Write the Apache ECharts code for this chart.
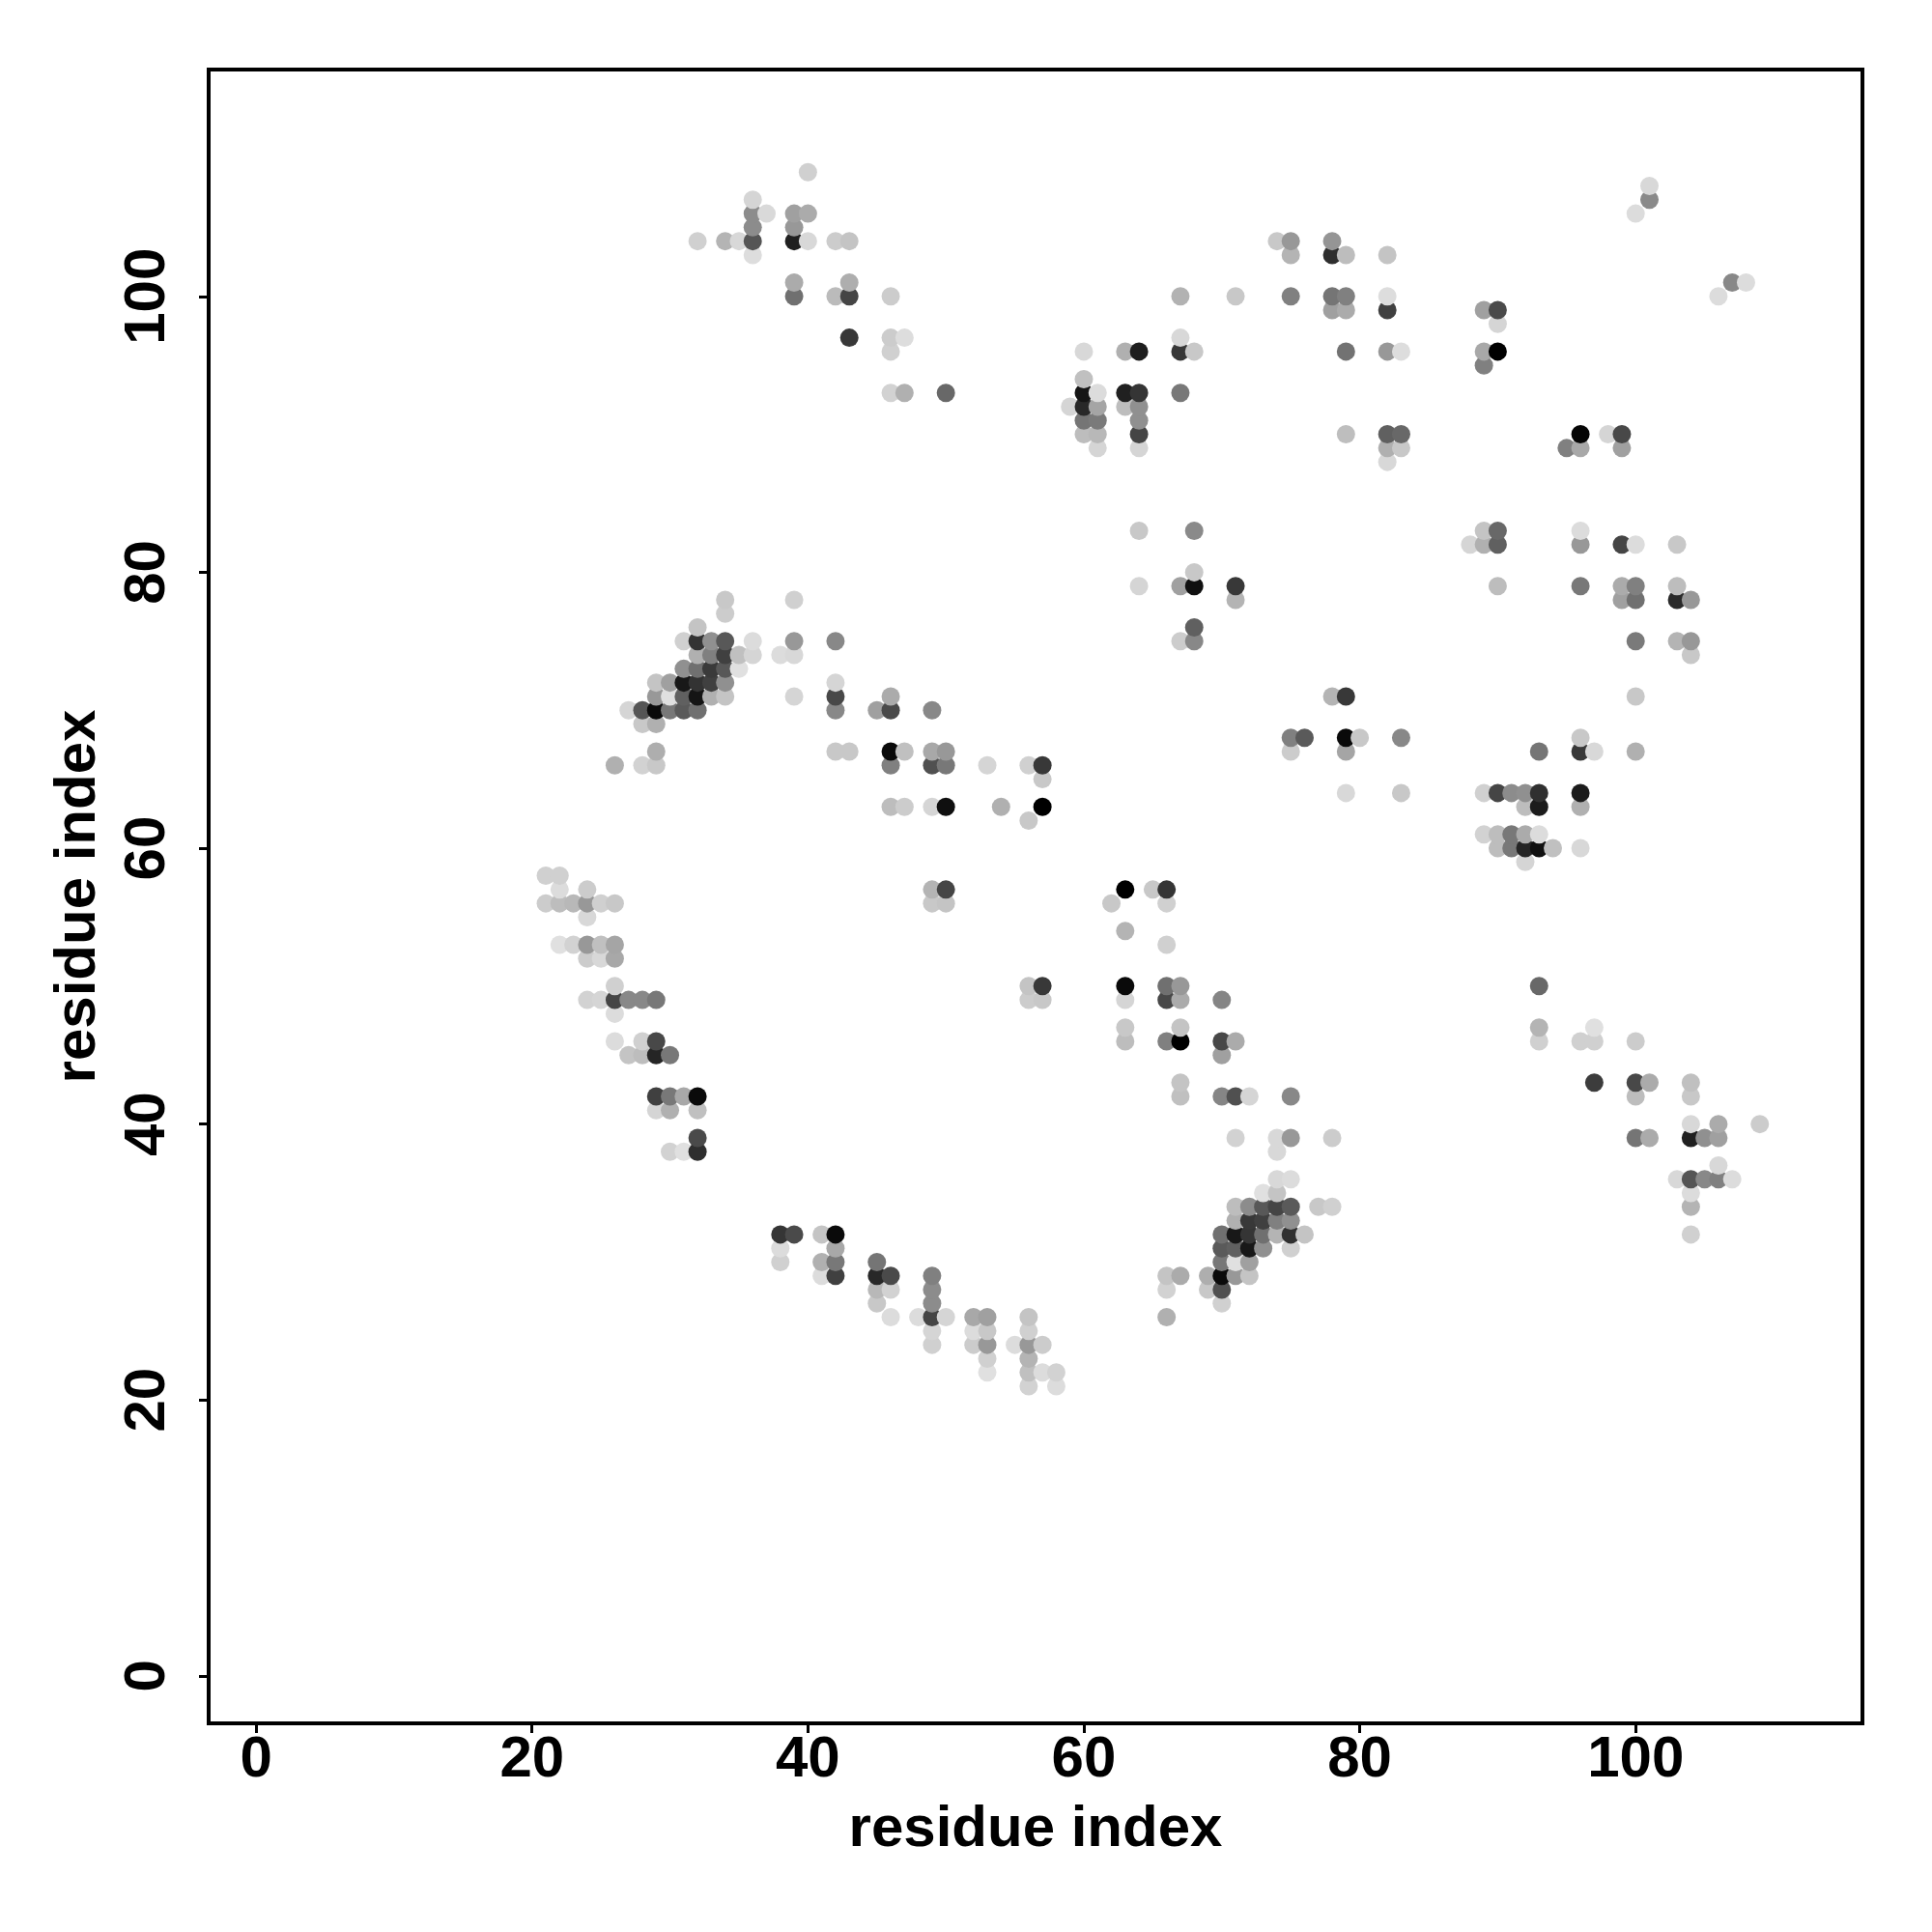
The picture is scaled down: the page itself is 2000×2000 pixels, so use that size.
<!DOCTYPE html>
<html>
<head>
<meta charset="utf-8">
<style>html,body{margin:0;padding:0;background:#fff}#c{width:2000px;height:2000px}</style>
<script src="https://cdn.jsdelivr.net/npm/echarts@6/dist/echarts.min.js"></script>
</head>
<body>
<div id="c"></div>
<script>
const tickValues = [0, 20, 40, 60, 80, 100];
const axisTitle = 'residue index';
// each contact: [residue x, residue y, grey level 0-255]
const topLeft = [[40,109,0xd0],[36,107,0xd5],[36,106,0x8c],[37,106,0xd9],[39,106,0xa0],[40,106,0xab],[36,105,0x8c],[39,105,0x98],[32,104,0xd0],[34,104,0xb4],[35,104,0xd8],[36,104,0x55],[39,104,0x20],[40,104,0xd8],[42,104,0xcc],[43,104,0xc4],[36,103,0xdd],[39,101,0xab],[43,101,0xae],[39,100,0x70],[42,100,0xbb],[43,100,0x45],[46,100,0xcc],[43,97,0x38],[46,97,0xcc],[47,97,0xdd],[46,96,0xd0],[46,93,0xd2],[47,93,0xb0],[50,93,0x68]];
const topMiddle = [[74,104,0xc8],[75,104,0x98],[78,104,0x95],[78,103,0x2e],[79,103,0xbd],[82,103,0xc4],[75,103,0xb4],[67,100,0xb2],[71,100,0xc8],[75,100,0x80],[78,100,0x75],[79,100,0x80],[82,100,0xdd],[78,99,0xa0],[79,99,0xab],[82,99,0x40],[67,97,0xd8],[60,96,0xd8],[63,96,0xb0],[64,96,0x1e],[67,96,0x38],[68,96,0xc8],[79,96,0x72],[82,96,0x98],[83,96,0xdd],[60,94,0xc0],[60,93,0x15],[61,93,0xdc],[63,93,0x20],[64,93,0x35],[67,93,0x78],[59,92,0xd5],[60,92,0x28],[61,92,0xa5],[63,92,0xbd],[64,92,0x90],[60,91,0x75],[61,91,0x7a],[64,91,0x90],[60,90,0xbd],[61,90,0xb8],[64,90,0x45],[61,89,0xd5],[64,89,0xd5],[79,90,0xbe],[82,90,0x60],[83,90,0x68],[82,89,0xb0],[83,89,0xc8],[82,88,0xd8],[64,83,0xc8],[68,83,0x8a],[68,80,0xc8],[64,79,0xd5],[67,79,0xa0],[68,79,0x10],[71,79,0x38],[71,78,0xb4]];
const topRight = [[101,108,0xd8],[101,107,0x8a],[100,106,0xdc],[107,101,0x88],[108,101,0xdc],[106,100,0xdc],[89,99,0xa0],[90,99,0x4a],[90,98,0xd5],[89,96,0xa8],[90,96,0x00],[89,95,0x80],[96,90,0x05],[98,90,0xd5],[99,90,0x48],[95,89,0x80],[96,89,0xa8],[99,89,0xa0],[89,83,0xc4],[90,83,0x68],[88,82,0xd5],[89,82,0xb0],[90,82,0x60],[96,83,0xdc],[96,82,0x98],[99,82,0x45],[100,82,0xdc],[103,82,0xc8],[90,79,0xbd],[96,79,0x78],[99,79,0xab],[100,79,0x80],[103,79,0xbd],[99,78,0xa0],[100,78,0x70],[103,78,0x2a],[104,78,0x98]];
const midLeft = [[34,78,0xc8],[34,77,0xcc],[39,78,0xd0],[32,76,0xc4],[31,75,0xd0],[32,75,0x33],[33,75,0x90],[34,75,0x58],[36,75,0xdc],[39,75,0x98],[42,75,0x88],[32,74,0xb0],[33,74,0x80],[34,74,0x40],[35,74,0xc0],[36,74,0xd5],[38,74,0xdc],[39,74,0xd8],[31,73,0x90],[32,73,0x70],[33,73,0x3a],[34,73,0x58],[35,73,0xe0],[29,72,0xc4],[30,72,0xa0],[31,72,0x18],[32,72,0x33],[33,72,0x40],[34,72,0x90],[42,72,0xd5],[29,71,0x98],[30,71,0xe0],[31,71,0x60],[32,71,0x15],[33,71,0xb0],[34,71,0xc4],[39,71,0xd5],[42,71,0x48],[46,71,0xab],[27,70,0xd5],[28,70,0x55],[29,70,0x0a],[30,70,0x78],[31,70,0x5a],[32,70,0x70],[42,70,0x88],[45,70,0xa0],[46,70,0x4a],[49,70,0x88],[28,69,0xc8],[29,69,0xb0],[29,67,0xae],[26,66,0xb0],[28,66,0xd2],[29,66,0xc8],[42,67,0xc8],[43,67,0xc8],[46,67,0x0a],[47,67,0xc0],[49,67,0xa8],[50,67,0x98],[46,66,0x80],[49,66,0x50],[50,66,0x78],[46,63,0xbd],[47,63,0xcc],[49,63,0xd5],[50,63,0x0f]];
const midCentre = [[68,76,0x60],[67,75,0xcc],[68,75,0x88],[78,71,0xb4],[79,71,0x38],[75,68,0x80],[76,68,0x5a],[79,68,0x0a],[75,67,0xcc],[79,67,0xa5],[79,64,0xd8],[53,66,0xd5],[56,66,0xd0],[57,66,0x38],[57,65,0xc8],[54,63,0xb0],[57,63,0x00],[56,62,0xc8],[63,57,0x00],[65,57,0xc8],[66,57,0x35],[62,56,0xc8],[66,56,0xd0],[63,54,0xb4],[66,53,0xd0],[49,57,0xb4],[50,57,0x45],[49,56,0xc8],[50,56,0xc4],[56,50,0xc4],[57,50,0x38],[56,49,0xcc],[57,49,0xc8]];
const midRight = [[100,75,0x7a],[103,75,0xb4],[104,75,0x98],[104,74,0xc8],[100,71,0xc8],[80,68,0xc8],[83,68,0x88],[83,64,0xc8],[93,67,0x75],[96,68,0xc8],[96,67,0x38],[97,67,0xd8],[100,67,0xb0],[89,64,0xd0],[90,64,0x45],[91,64,0x8c],[92,64,0x90],[93,64,0x30],[96,64,0x1c],[92,63,0xbd],[93,63,0x1c],[96,63,0xb0],[89,61,0xd2],[90,61,0xbd],[91,61,0x78],[92,61,0xab],[93,61,0xdc],[90,60,0xbd],[91,60,0x78],[92,60,0x25],[93,60,0x10],[94,60,0xc0],[96,60,0xd8],[92,59,0xd5]];
const lowLeft = [[21,58,0xd0],[22,58,0xd0],[22,57,0xdc],[24,57,0xcc],[21,56,0xcc],[22,56,0xbd],[23,56,0xb8],[24,56,0x98],[25,56,0xd0],[26,56,0xc8],[24,55,0xd8],[22,53,0xe0],[23,53,0xd2],[24,53,0x98],[25,53,0xc0],[26,53,0xa5],[24,52,0xcc],[25,52,0xd8],[26,52,0xa8],[26,50,0xd0],[24,49,0xd2],[25,49,0xd5],[26,49,0x45],[27,49,0x88],[28,49,0x88],[29,49,0x78],[26,48,0xdc],[26,46,0xdc],[28,46,0xd0],[29,46,0x48],[27,45,0xc4],[28,45,0xbd],[29,45,0x25],[30,45,0x78],[29,42,0x40],[30,42,0x78],[31,42,0xa8],[32,42,0x0a],[29,41,0xd5],[30,41,0xb0],[32,41,0xc0],[32,39,0x4a],[30,38,0xd2],[31,38,0xe0],[32,38,0x2e]];
const lowCentre = [[63,50,0x0a],[66,50,0x70],[67,50,0x98],[70,49,0x85],[63,49,0xd5],[66,49,0x48],[67,49,0xab],[63,47,0xc8],[63,46,0xbd],[66,46,0x80],[67,46,0x00],[67,47,0xc4],[70,46,0x48],[71,46,0xab],[70,45,0xa0],[67,43,0xc4],[67,42,0xc0],[70,42,0x85],[71,42,0x50],[72,42,0xd5],[75,42,0x88],[71,39,0xd2],[74,39,0xd8],[75,39,0x98],[78,39,0xcc],[74,38,0xd8],[74,36,0xd8],[75,36,0xdc],[73,35,0xe0],[74,35,0xc4],[71,34,0xbd],[72,34,0x8c],[73,34,0x58],[74,34,0x45],[75,34,0x5a],[77,34,0xc8],[78,34,0xd0],[71,33,0xb0],[72,33,0x38],[73,33,0x40],[74,33,0x80],[75,33,0x90],[70,32,0x70],[71,32,0x18],[72,32,0x35],[73,32,0x70],[74,32,0xb4],[75,32,0x30],[76,32,0xc4],[70,31,0x5a],[71,31,0x60],[72,31,0x18],[73,31,0x90],[75,31,0xd0],[70,30,0x78],[71,30,0xe0],[72,30,0xa0],[66,29,0xc4],[67,29,0xab],[69,29,0xae],[70,29,0x0a],[71,29,0x98],[72,29,0xc4],[66,28,0xd2],[69,28,0xc8],[70,28,0x50],[70,27,0xd0],[66,26,0xb0]];
const bottomArc = [[38,32,0x35],[39,32,0x4a],[41,32,0xc4],[42,32,0x0a],[38,31,0xdc],[42,31,0xa8],[38,30,0xd0],[41,30,0xb0],[42,30,0x78],[41,29,0xdc],[42,29,0x40],[45,30,0x75],[45,29,0x28],[46,29,0x4a],[45,28,0xb8],[46,28,0xd2],[45,27,0xc8],[46,26,0xdc],[49,29,0x80],[49,28,0x8c],[49,27,0x8c],[48,26,0xdc],[49,26,0x45],[50,26,0xd5],[49,25,0xd5],[49,24,0xd0],[52,26,0xa8],[53,26,0xa0],[52,25,0xdc],[53,25,0xc8],[52,24,0xcc],[53,24,0x98],[53,23,0xd0],[53,22,0xe0],[56,26,0xc4],[56,25,0xd0],[55,24,0xdc],[56,24,0x98],[57,24,0xcc],[56,23,0xb4],[56,22,0xc0],[57,22,0xdc],[58,22,0xd2],[56,21,0xd2],[58,21,0xdc]];
const lowRight = [[93,50,0x68],[93,47,0xb4],[93,46,0xd0],[96,46,0xd0],[97,47,0xe0],[97,46,0xd0],[100,46,0xcc],[97,43,0x3c],[100,43,0x48],[101,43,0xab],[100,42,0xbd],[104,43,0xc0],[104,42,0xc8],[104,40,0xd8],[106,40,0xab],[109,40,0xcc],[104,39,0x20],[105,39,0x90],[106,39,0xa0],[100,39,0x75],[101,39,0xab],[106,37,0xd8],[103,36,0xd8],[104,36,0x55],[105,36,0x88],[106,36,0x80],[107,36,0xdc],[104,35,0xdc],[104,34,0xb4],[104,32,0xd0]];

const contacts = [].concat(topLeft, topMiddle, topRight, midLeft, midCentre, midRight, lowLeft, lowCentre, bottomArc, lowRight)
  .sort((a, b) => a[0] - b[0] || a[1] - b[1]);

const font = { fontFamily: '"Liberation Sans", Arial, sans-serif', fontWeight: 'bold', fontSize: 60, color: '#000' };
function axis(extra) {
  return Object.assign({
    type: 'value', min: -3.44, max: 116.44, name: axisTitle, nameLocation: 'middle',
    nameTextStyle: font, splitLine: { show: false }, axisLine: { show: false, onZero: false },
    axisTick: { show: true, length: 10, lineStyle: { color: '#000', width: 3 }, customValues: tickValues },
  }, extra);
}
const chart = echarts.init(document.getElementById('c'), null, { renderer: 'canvas' });
chart.setOption({
  animation: false,
  backgroundColor: '#fff',
  grid: { left: 216, right: 72, top: 72, bottom: 216, show: true, borderColor: '#000', borderWidth: 4, backgroundColor: 'transparent' },
  xAxis: axis({ nameGap: 80, axisLabel: Object.assign({ margin: 8, customValues: tickValues }, font) }),
  yAxis: axis({ nameGap: 105, axisLabel: Object.assign({ margin: 63, rotate: 90, customValues: tickValues, align: 'center', verticalAlign: 'middle' }, font) }),
  series: [{
    type: 'scatter', data: contacts, symbol: 'circle', symbolSize: 19, clip: false, progressive: 0, large: false,
    encode: { x: 0, y: 1 },
    itemStyle: { opacity: 1, color: p => { const g = p.value[2]; return 'rgb(' + g + ',' + g + ',' + g + ')'; } }
  }]
});
</script>
</body>
</html>
